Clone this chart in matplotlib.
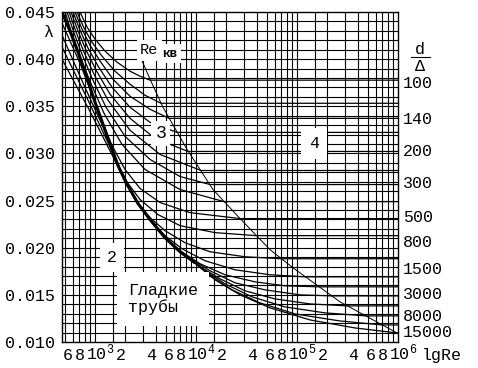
import numpy as np
import matplotlib
matplotlib.use("Agg")
from matplotlib import pyplot as plt
from matplotlib import transforms

# all x values are lgRe, y values are lambda

# thick smooth-pipe line
smooth_lg = [2.673, 2.752, 2.832, 2.911, 2.990, 3.069, 3.149, 3.228, 3.307, 3.426, 3.545, 3.693, 3.842, 3.990]
smooth_lam = [0.0450, 0.04298, 0.04074, 0.03830, 0.03574, 0.03340, 0.03096, 0.02872, 0.02691, 0.02468, 0.02298, 0.02106, 0.01957, 0.01840]

# short lines from the left edge running into the smooth-pipe band
l1_lg = [2.673, 2.851, 3.030]
l1_lam = [0.04383, 0.03957, 0.03457]
l2_lg = [2.673, 2.891, 3.109]
l2_lam = [0.04255, 0.03723, 0.03213]
l3_lg = [2.673, 2.931, 3.188]
l3_lam = [0.04128, 0.03564, 0.02979]
l4_lg = [2.673, 2.950, 3.267]
l4_lam = [0.04000, 0.03447, 0.02777]

# rough-pipe curves, top to bottom (last point = right edge)
c1_lg = [2.851, 2.921, 3.000, 3.099, 3.218, 3.347, 3.446, 3.545, 6.0]
c1_lam = [0.04500, 0.04340, 0.04213, 0.04085, 0.03968, 0.03872, 0.03819, 0.03777, 0.03777]
c2_lg = [2.822, 2.891, 2.970, 3.069, 3.198, 3.347, 3.495, 3.653, 6.0]
c2_lam = [0.04500, 0.04330, 0.04181, 0.04032, 0.03872, 0.03734, 0.03617, 0.03532, 0.03532]
c3_lg = [2.802, 2.871, 2.950, 3.050, 3.178, 3.347, 3.545, 3.733, 6.0]
c3_lam = [0.04500, 0.04319, 0.04149, 0.03979, 0.03787, 0.03606, 0.03468, 0.03372, 0.03372]
c4_lg = [2.782, 2.851, 2.931, 3.030, 3.168, 3.347, 3.545, 3.812, 6.0]
c4_lam = [0.04500, 0.04309, 0.04117, 0.03926, 0.03702, 0.03489, 0.03330, 0.03223, 0.03223]
c5_lg = [2.762, 2.832, 2.911, 3.010, 3.149, 3.347, 3.594, 3.921, 6.0]
c5_lam = [0.04500, 0.04298, 0.04096, 0.03883, 0.03628, 0.03372, 0.03160, 0.03021, 0.03021]
c6_lg = [2.743, 2.812, 2.891, 2.990, 3.129, 3.347, 3.644, 4.050, 6.0]
c6_lam = [0.04500, 0.04287, 0.04074, 0.03840, 0.03564, 0.03245, 0.02989, 0.02819, 0.02819]
c7_lg = [2.723, 2.792, 2.871, 2.970, 3.109, 3.297, 3.545, 3.842, 4.139, 6.0]
c7_lam = [0.04500, 0.04277, 0.04053, 0.03798, 0.03489, 0.03181, 0.02936, 0.02755, 0.02670, 0.02670]
c8_lg = [2.703, 2.772, 2.851, 2.950, 3.089, 3.267, 3.495, 3.842, 4.277, 6.0]
c8_lam = [0.04500, 0.04266, 0.04032, 0.03766, 0.03426, 0.03096, 0.02830, 0.02617, 0.02489, 0.02489]
c9_lg = [3.069, 3.168, 3.297, 3.446, 3.644, 3.941, 4.436, 6.0]
c9_lam = [0.03340, 0.03085, 0.02830, 0.02628, 0.02479, 0.02372, 0.02309, 0.02309]
c10_lg = [3.228, 3.327, 3.446, 3.624, 3.842, 4.188, 4.594, 6.0]
c10_lam = [0.02872, 0.02681, 0.02511, 0.02351, 0.02234, 0.02160, 0.02128, 0.02128]
c11_lg = [3.426, 3.545, 3.693, 3.891, 4.139, 4.485, 4.842, 6.0]
c11_lam = [0.02468, 0.02319, 0.02181, 0.02053, 0.01957, 0.01904, 0.01883, 0.01883]
c12_lg = [3.545, 3.693, 3.861, 4.089, 4.386, 4.733, 5.079, 6.0]
c12_lam = [0.02298, 0.02128, 0.01989, 0.01862, 0.01766, 0.01713, 0.01691, 0.01691]
c13_lg = [3.693, 3.842, 4.040, 4.287, 4.584, 4.881, 5.218, 6.0]
c13_lam = [0.02106, 0.01968, 0.01830, 0.01713, 0.01638, 0.01596, 0.01585, 0.01585]
c14_lg = [3.792, 3.941, 4.139, 4.386, 4.683, 5.030, 5.347, 6.0]
c14_lam = [0.02000, 0.01883, 0.01755, 0.01628, 0.01553, 0.01500, 0.01489, 0.01489]
c15_lg = [3.891, 4.040, 4.238, 4.485, 4.782, 5.129, 5.495, 6.0]
c15_lam = [0.01915, 0.01798, 0.01670, 0.01543, 0.01457, 0.01404, 0.01383, 0.01383]
c16_lg = [3.941, 4.089, 4.287, 4.554, 4.881, 5.277, 5.683, 6.0]
c16_lam = [0.01883, 0.01755, 0.01617, 0.01479, 0.01372, 0.01309, 0.01277, 0.01277]
c17_lg = [3.960, 4.139, 4.356, 4.634, 4.980, 5.426, 5.842, 6.0]
c17_lam = [0.01862, 0.01702, 0.01553, 0.01415, 0.01298, 0.01223, 0.01181, 0.01181]
c18_lg = [3.990, 4.188, 4.436, 4.733, 5.129, 5.574, 5.990, 6.0]
c18_lam = [0.01840, 0.01660, 0.01500, 0.01362, 0.01234, 0.01149, 0.01096, 0.01096]

# Re_kv boundary line
rekv_lg = [3.446, 3.545, 3.673, 3.911, 4.168, 4.436, 4.733, 4.960, 5.426, 5.990]
rekv_lam = [0.04032, 0.03787, 0.03489, 0.03043, 0.02617, 0.02309, 0.01979, 0.01787, 0.01426, 0.01096]

# right-hand d/Delta scale
dd_labels = ["100", "140", "200", "300", "500", "800", "1500", "3000", "8000", "15000"]
dd_lam = [0.03745, 0.03362, 0.03021, 0.02681, 0.02319, 0.02053, 0.01766, 0.01500, 0.01266, 0.01096]

# x tick labels
xtick_re = [600, 800, 1e3, 2e3, 4e3, 6e3, 8e3, 1e4, 2e4, 4e4, 6e4, 8e4, 1e5, 2e5, 4e5, 6e5, 8e5, 1e6]
xtick_text = ["6", "8", r"$\mathrm{10}^{3}$", "2", "4", "6", "8", r"$\mathrm{10}^{4}$", "2", "4", "6", "8",
              r"$\mathrm{10}^{5}$", "2", "4", "6", "8", r"$\mathrm{10}^{6}$"]
ytick_lam = [0.010, 0.015, 0.020, 0.025, 0.030, 0.035, 0.040, 0.045]

grid_mult = [1, 1.5, 2, 3, 4, 5, 6, 7, 8, 9]

plt.rcParams['font.family'] = ['Liberation Mono', 'DejaVu Sans Mono']
plt.rcParams['mathtext.fontset'] = 'custom'
plt.rcParams['mathtext.rm'] = 'Liberation Mono'
plt.rcParams['mathtext.it'] = 'Liberation Mono'
plt.rcParams['font.size'] = 12

fig = plt.figure(figsize=(4.78, 3.68), dpi=100)
ax = fig.add_axes([62 / 478, 26 / 368, 336 / 478, 330 / 368])
lg_min, lg_max = 2.673, 6.0
ax.set_xlim(lg_min, lg_max)
ax.set_ylim(0.010, 0.045)

# grid
for k in range(2, 6):
    for m in grid_mult:
        v = np.log10(m * 10 ** k)
        if lg_min < v < lg_max:
            ax.axvline(v, color='k', lw=0.8, zorder=1)
for lam in np.round(np.arange(0.011, 0.045, 0.001), 3):
    ax.axhline(lam, color='k', lw=0.8, zorder=1)

# curves
ax.plot(smooth_lg, smooth_lam, color='k', lw=2.2, zorder=3, solid_capstyle='butt')
for xs, ys in [(l1_lg, l1_lam), (l2_lg, l2_lam), (l3_lg, l3_lam), (l4_lg, l4_lam)]:
    ax.plot(xs, ys, color='k', lw=0.9, zorder=3)
curves = [(c1_lg, c1_lam), (c2_lg, c2_lam), (c3_lg, c3_lam), (c4_lg, c4_lam), (c5_lg, c5_lam),
          (c6_lg, c6_lam), (c7_lg, c7_lam), (c8_lg, c8_lam), (c9_lg, c9_lam), (c10_lg, c10_lam),
          (c11_lg, c11_lam), (c12_lg, c12_lam), (c13_lg, c13_lam), (c14_lg, c14_lam),
          (c15_lg, c15_lam), (c16_lg, c16_lam), (c17_lg, c17_lam), (c18_lg, c18_lam)]
for xs, ys in curves:
    ax.plot(xs, ys, color='k', lw=0.9, zorder=3)
ax.plot(rekv_lg, rekv_lam, color='k', lw=0.7, zorder=3)

# zone labels
ax.text(3.665, 0.04027, "кв", ha='left', va='baseline', fontsize=9, fontweight='bold', zorder=6,
        bbox=dict(facecolor='white', edgecolor='none', pad=2.5))
ax.text(3.446, 0.04053, "Re", ha='left', va='baseline', fontsize=11, zorder=7,
        bbox=dict(facecolor='white', edgecolor='none', pad=2.5))
ax.text(3.653, 0.03213, "3", ha='center', va='center', fontsize=13, zorder=6,
        bbox=dict(facecolor='white', edgecolor='none', pad=3))
ax.text(5.168, 0.03106, "4", ha='center', va='center', zorder=6,
        bbox=dict(facecolor='white', edgecolor='none', pad=6))
ax.text(3.168, 0.01894, "2", ha='center', va='center', zorder=6,
        bbox=dict(facecolor='white', edgecolor='none', pad=5))
ax.text(3.327, 0.01457, "Гладкие\nтрубы", ha='left', va='center', linespacing=1.1, zorder=6,
        bbox=dict(facecolor='white', edgecolor='none', pad=8))

# axes styling
for s in ax.spines.values():
    s.set_linewidth(1.0)
    s.set_color('k')
ax.set_yticks(ytick_lam)
ax.set_yticklabels(["%.3f" % v for v in ytick_lam])
ax.set_xticks([])
ax.tick_params(axis='y', length=0, pad=5)

# x tick labels drawn on the baseline; digits nudged left, powers nudged right as in the original
xt = transforms.blended_transform_factory(ax.transData, ax.transAxes)
for re, txt in zip(xtick_re, xtick_text):
    dx = 3.6 if txt.startswith("$") else -3.6
    tr = xt + transforms.ScaledTranslation(dx / 72, 0, fig.dpi_scale_trans)
    ax.text(np.log10(re), -0.055, txt, transform=tr, ha='center', va='baseline', clip_on=False)
ax.text(1.071, -0.055, "lgRe", transform=ax.transAxes, ha='left', va='baseline')

# y labels
yt = transforms.blended_transform_factory(ax.transAxes, ax.transData)
ax.text(-0.042, 0.04287, "λ", transform=yt, ha='center', va='center')
for lab, lam in zip(dd_labels, dd_lam):
    ax.text(1.015, lam, lab, transform=yt, ha='left', va='center')
ax.text(1.065, 0.04106, "d", transform=yt, ha='center', va='center')
ax.text(1.065, 0.03926, "Δ", transform=yt, ha='center', va='center')
ax.plot([1.038, 1.095], [0.04021, 0.04021], transform=yt, color='k', lw=0.8, clip_on=False)

fig.savefig("out.png", dpi=100)
